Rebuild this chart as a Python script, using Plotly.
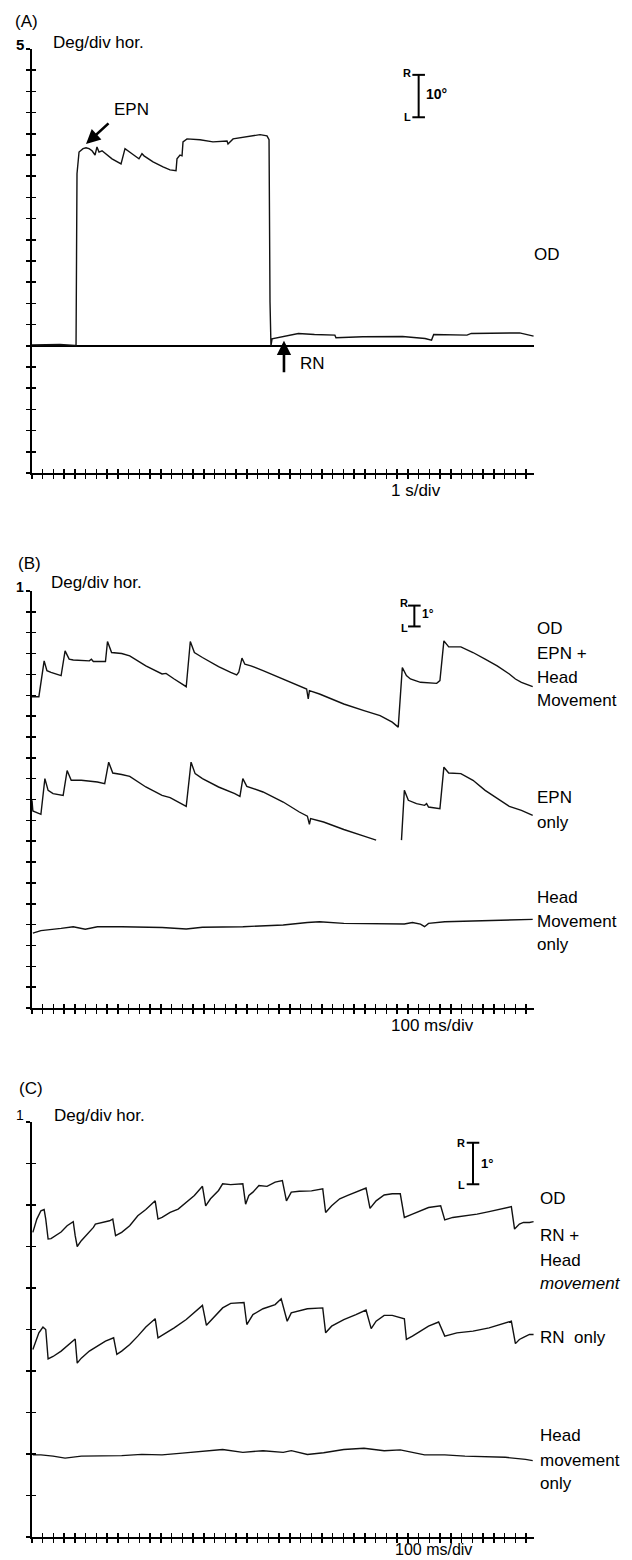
import plotly.graph_objects as go

W, H = 632, 1560
FONT = "Liberation Sans, Arial, Helvetica, sans-serif"

# ---------------- Panel A : OD, 5 deg/div, 1 s/div ----------------
a_t = [0, 2.6, 4.0, 4.1, 4.19, 4.38, 4.75, 5.03, 5.31, 5.59, 5.87, 6.05, 6.24, 6.52, 7.45,
       8.29, 8.66, 8.85, 9.31, 9.96, 10.24, 10.43, 11.27, 12.2, 12.85, 13.41, 13.5, 13.78,
       13.97, 14.06, 14.43, 15.64, 16.85, 18.16, 18.25, 18.72, 20.02, 21.23, 21.88, 22.07,
       22.16, 22.25, 22.35, 22.5, 23.3, 24.8, 26.3, 28.2, 28.3, 30.8, 34.5, 36.6, 37.2,
       37.4, 40.5, 40.9, 45.4, 46.2, 46.7]
a_deg = [0.2, 0.3, 0.1, 0, 40.6, 45.7, 46.5, 46.7, 46.5, 46.0, 45.0, 46.9, 45.7, 46.0, 44.1,
         42.9, 46.5, 46.2, 45.3, 44.1, 45.3, 44.8, 43.4, 42.2, 41.5, 41.3, 44.1, 45.0,
         44.8, 48.1, 48.8, 48.6, 48.1, 48.3, 47.6, 48.8, 49.3, 49.8, 49.5, 48.6,
         10.4, 0, 1.65, 1.73, 2.12, 2.91, 2.67, 2.52, 1.89, 2.12, 2.20, 1.73, 1.34,
         2.67, 2.52, 2.91, 3.06, 2.52, 2.28]

# ---------------- Panel B : 1 deg/div, 100 ms/div ----------------
b1_t = [0, 64, 113, 139, 177, 271, 308, 346, 384, 534, 553, 571, 684, 703, 741, 835, 910,
        1060, 1211, 1248, 1324, 1418, 1436, 1474, 1512, 1587, 1737, 1850, 1906, 1925, 1955,
        1982, 2038, 2151, 2339, 2489, 2557, 2572, 2583, 2677, 2903, 3091, 3241, 3354, 3410,
        3448, 3486, 3523, 3617, 3768, 3798, 3835, 3880, 3993, 4106, 4219, 4331, 4444, 4501,
        4557, 4662]
b1_deg = [14.93, 14.93, 16.65, 16.18, 16.10, 15.94, 17.13, 16.73, 16.69, 16.65, 16.73, 16.62,
          16.62, 17.58, 17.05, 17.00, 16.89, 16.41, 16.02, 16.05, 15.78, 15.46, 15.41, 17.58,
          17.05, 16.81, 16.37, 16.10, 15.98, 16.10, 16.78, 16.49, 16.41, 16.18, 15.78, 15.46,
          15.30, 14.82, 15.22, 15.06, 14.58, 14.26, 14.02, 13.71, 13.47, 16.33, 15.94, 15.78,
          15.62, 15.57, 15.70, 17.61, 17.32, 17.32, 17.05, 16.73, 16.41, 16.02, 15.78, 15.62,
          15.41]

b2_t = [0, 8, 83, 120, 150, 196, 290, 327, 365, 459, 609, 677, 714, 752, 835, 910, 1060, 1211,
        1286, 1361, 1436, 1481, 1519, 1587, 1737, 1888, 1936, 1963, 2000, 2151, 2339, 2489,
        2564, 2583, 2594, 2715, 2903, 3091, 3204, None, 3440, 3467, 3504, 3580, 3655, 3674,
        3692, 3798, 3835, 3880, 3993, 4106, 4219, 4331, 4444, 4557, 4662]
b2_deg = [9.96, 9.45, 9.29, 11.00, 10.44, 10.28, 10.20, 11.39, 10.92, 10.92, 10.84, 10.76,
          11.79, 11.27, 11.20, 11.11, 10.60, 10.20, 10.09, 9.88, 9.67, 11.79, 11.24, 11.00,
          10.60, 10.28, 10.15, 11.00, 10.63, 10.36, 9.88, 9.40, 9.20, 8.81, 9.08, 8.92, 8.56,
          8.24, 8.05, None, 8.05, 10.44, 9.96, 9.80, 9.72, 9.80, 9.64, 9.56, 11.55, 11.27,
          11.24, 10.92, 10.44, 10.04, 9.67, 9.48, 9.24]

b3_t = [8, 83, 271, 384, 496, 609, 835, 1211, 1436, 1587, 1963, 2339, 2564, 2677, 2903, 3279,
        3467, 3542, 3617, 3655, 3692, 3843, 4219, 4662]
b3_deg = [3.59, 3.71, 3.82, 3.90, 3.78, 3.90, 3.90, 3.86, 3.79, 3.87, 3.90, 3.98, 4.10, 4.14,
          4.06, 4.03, 4.03, 4.10, 4.02, 3.90, 4.06, 4.14, 4.19, 4.25]

# ---------------- Panel C : 1 deg/div, 100 ms/div ----------------
c1_t = [8, 45, 83, 113, 128, 150, 177, 214, 271, 327, 384, 402, 421, 459, 515, 572, 590, 647,
        722, 752, 778, 835, 910, 985, 1060, 1147, 1173, 1211, 1286, 1361, 1436, 1512, 1587,
        1617, 1662, 1737, 1775, 1850, 1963, 1989, 2019, 2057, 2113, 2188, 2264, 2331, 2369,
        2414, 2489, 2602, 2707, 2734, 2790, 2865, 2940, 3016, 3110, 3147, 3204, 3279, 3354,
        3429, 3467, 3542, 3617, 3692, 3805, 3843, 3918, 4031, 4144, 4256, 4369, 4463, 4493,
        4538, 4576, 4632, 4670]
c1_deg = [7.34, 7.66, 7.86, 7.89, 7.66, 7.18, 7.19, 7.26, 7.35, 7.50, 7.60, 7.26, 7.00, 7.14,
          7.30, 7.46, 7.54, 7.58, 7.62, 7.66, 7.26, 7.34, 7.50, 7.74, 7.89, 8.10, 7.66, 7.70,
          7.82, 7.90, 8.06, 8.23, 8.45, 7.98, 8.15, 8.35, 8.51, 8.49, 8.51, 8.02, 8.23, 8.31,
          8.47, 8.45, 8.55, 8.59, 8.10, 8.31, 8.33, 8.34, 8.39, 7.82, 7.98, 8.15, 8.23, 8.31,
          8.41, 7.92, 8.10, 8.24, 8.27, 8.27, 7.70, 7.78, 7.86, 7.94, 7.98, 7.64, 7.70, 7.74,
          7.78, 7.84, 7.90, 7.96, 7.42, 7.54, 7.58, 7.58, 7.60]

c2_t = [8, 64, 102, 128, 150, 196, 271, 346, 402, 421, 459, 534, 609, 684, 760, 790, 835, 910,
        985, 1060, 1147, 1173, 1248, 1324, 1436, 1512, 1587, 1624, 1700, 1775, 1850, 1974,
        2000, 2057, 2151, 2264, 2320, 2376, 2414, 2564, 2707, 2734, 2790, 2903, 3016, 3110,
        3158, 3204, 3279, 3354, 3467, 3486, 3542, 3617, 3692, 3786, 3843, 3956, 4106, 4256,
        4369, 4463, 4501, 4538, 4576, 4632, 4670]
c2_deg = [4.52, 4.92, 5.06, 5.00, 4.29, 4.35, 4.48, 4.64, 4.77, 4.19, 4.31, 4.48, 4.61, 4.72,
          4.80, 4.40, 4.48, 4.64, 4.84, 5.06, 5.26, 4.80, 4.92, 5.04, 5.24, 5.40, 5.58, 5.10,
          5.32, 5.52, 5.63, 5.65, 5.12, 5.36, 5.50, 5.60, 5.74, 5.20, 5.40, 5.50, 5.52, 4.92,
          5.08, 5.24, 5.36, 5.47, 5.02, 5.20, 5.34, 5.34, 5.26, 4.76, 4.84, 4.96, 5.08, 5.18,
          4.84, 4.92, 4.96, 5.04, 5.12, 5.20, 4.66, 4.76, 4.81, 4.88, 4.88]

c3_t = [8, 83, 196, 308, 459, 647, 835, 1023, 1211, 1399, 1587, 1775, 1963, 2151, 2339, 2414,
        2564, 2715, 2903, 3091, 3279, 3429, 3655, 3843, 4031, 4219, 4407, 4595, 4662]
c3_deg = [1.98, 1.98, 1.95, 1.90, 1.95, 1.95, 1.96, 1.99, 1.98, 2.02, 2.06, 2.11, 2.04, 2.08,
          2.04, 2.08, 1.99, 2.03, 2.11, 2.14, 2.08, 2.10, 1.98, 1.98, 1.95, 1.94, 1.92, 1.87,
          1.84]

# ---------------- layout helpers ----------------
def py(p):
    return 1 - p / H

def px(p):
    return p / W

XDOM = [px(32), px(534)]
panels = {
    "A": dict(top=49, bot=473, yr=[-30, 70], xr=[0, 46.74], dx=1, dy=5),
    "B": dict(top=591, bot=1008, yr=[0, 20], xr=[0, 4674], dx=100, dy=1),
    "C": dict(top=1122, bot=1537, yr=[0, 10], xr=[0, 4674], dx=100, dy=1),
}

fig = go.Figure()
LINE = dict(color="#111111", width=1.4)

fig.add_trace(go.Scatter(x=a_t, y=a_deg, mode="lines", line=LINE, xaxis="x", yaxis="y"))
for t, d in [(b1_t, b1_deg), (b2_t, b2_deg), (b3_t, b3_deg)]:
    fig.add_trace(go.Scatter(x=t, y=d, mode="lines", line=LINE, xaxis="x2", yaxis="y2",
                             connectgaps=False))
for t, d in [(c1_t, c1_deg), (c2_t, c2_deg), (c3_t, c3_deg)]:
    fig.add_trace(go.Scatter(x=t, y=d, mode="lines", line=LINE, xaxis="x3", yaxis="y3"))

# calibration bars (drawn in data units)
scale_bars = [("x", "y", 36.0, 53.9, 10), ("x2", "y2", 3560, 18.3, 1), ("x3", "y3", 4106, 8.5, 1)]
for xa, ya, xv, y0, h in scale_bars:
    fig.add_trace(go.Scatter(x=[xv, xv], y=[y0, y0 + h], mode="lines+markers",
                             line=dict(color="black", width=2),
                             marker=dict(symbol="line-ew", size=9,
                                         line=dict(color="black", width=2)),
                             xaxis=xa, yaxis=ya))

axis_common = dict(showgrid=False, showline=True, linecolor="black", linewidth=2,
                   ticks="outside", ticklen=4, tickwidth=1.5, tickcolor="black",
                   showticklabels=False, fixedrange=True)
over_common = dict(showgrid=False, showline=False, zeroline=False, ticks="inside",
                   ticklen=4, tickwidth=1.5, tickcolor="black", showticklabels=False,
                   fixedrange=True)

layout = dict(width=W, height=H, margin=dict(l=0, r=0, t=0, b=0),
              paper_bgcolor="white", plot_bgcolor="white", showlegend=False,
              font=dict(family=FONT, color="black", size=17), hovermode=False)

for i, key in enumerate(["A", "B", "C"]):
    p = panels[key]
    n = i + 1
    xs = "" if n == 1 else str(n)
    ydom = [py(p["bot"]), py(p["top"])]
    layout["xaxis" + xs] = dict(domain=XDOM, range=p["xr"], anchor="y" + xs, dtick=p["dx"],
                                tick0=0, zeroline=False, **axis_common)
    layout["yaxis" + xs] = dict(domain=ydom, range=p["yr"], anchor="x" + xs, dtick=p["dy"],
                                tick0=0, zeroline=(key == "A"), zerolinecolor="black",
                                zerolinewidth=2, **axis_common)
    o = str(n + 3)
    layout["xaxis" + o] = dict(overlaying="x" + xs, anchor="y" + xs, range=p["xr"],
                               dtick=p["dx"], tick0=0, **over_common)
    layout["yaxis" + o] = dict(overlaying="y" + xs, anchor="x" + xs, range=p["yr"],
                               dtick=p["dy"], tick0=0, **over_common)
    fig.add_trace(go.Scatter(x=[None], y=[None], xaxis="x" + o, yaxis="y" + o,
                             mode="markers"))

fig.update_layout(**layout)

ann = []

def text(x, y, s, size=17, anchor="left", bold=False, italic=False):
    f = dict(family=FONT, size=size, color="black")
    if bold:
        s = "<b>" + s + "</b>"
    if italic:
        s = "<i>" + s + "</i>"
    ann.append(dict(x=px(x), y=py(y), xref="paper", yref="paper", text=s, showarrow=False,
                    xanchor=anchor, yanchor="middle", font=f))

# panel letters, scale headings
text(13, 22, "(A)")
text(16, 563, "(B)")
text(17, 1088, "(C)")
text(51, 42, "Deg/div hor.")
text(49, 582, "Deg/div hor.")
text(52, 1115, "Deg/div hor.")
text(26, 44, "5", size=15, anchor="right", bold=True)
text(26, 587, "1", size=14, anchor="right", bold=True)
text(26, 1115, "1", size=14, anchor="right")
text(416, 490, "1 s/div", anchor="center")
text(432, 1025, "100 ms/div", anchor="center")
text(433, 1549, "100 ms/div", anchor="center", size=16)

# scale bar labels
text(413, 73, "R", size=11, anchor="right", bold=True)
text(413, 117, "L", size=11, anchor="right", bold=True)
text(424, 94, "10°", size=14, anchor="left", bold=True)
text(410, 603, "R", size=11, anchor="right", bold=True)
text(410, 628, "L", size=11, anchor="right", bold=True)
text(420, 614, "1°", size=12, anchor="left", bold=True)
text(467, 1143, "R", size=11, anchor="right", bold=True)
text(467, 1185, "L", size=11, anchor="right", bold=True)
text(479, 1163, "1°", size=13, anchor="left", bold=True)

# trace labels
text(532, 255, "OD")
for y, s in [(628, "OD"), (653, "EPN +"), (677, "Head"), (701, "Movement"),
             (798, "EPN"), (822, "only"), (898, "Head"), (921, "Movement"), (945, "only")]:
    text(535, y, s)
for y, s in [(1198, "OD"), (1235, "RN +"), (1260, "Head"), (1460, "movement"),
             (1435, "Head"), (1483, "only")]:
    text(538, y, s)
text(538, 1283, "movement", italic=True)
text(538, 1337, "RN&nbsp;&nbsp;only")

# EPN / RN arrows
text(112, 110, "EPN")
text(298, 363, "RN")
ann.append(dict(x=5.03, y=47.6, xref="x", yref="y", ax=24, ay=-22, text="", showarrow=True,
                arrowhead=2, arrowsize=1.1, arrowwidth=2.6, arrowcolor="black"))
ann.append(dict(x=23.46, y=1.2, xref="x", yref="y", ax=0, ay=33, text="", showarrow=True,
                arrowhead=2, arrowsize=1.1, arrowwidth=2.6, arrowcolor="black"))

fig.update_layout(annotations=ann)

fig.write_html("out.html", config={"displayModeBar": False, "staticPlot": True},
               post_script="document.body.style.margin='0px';")
